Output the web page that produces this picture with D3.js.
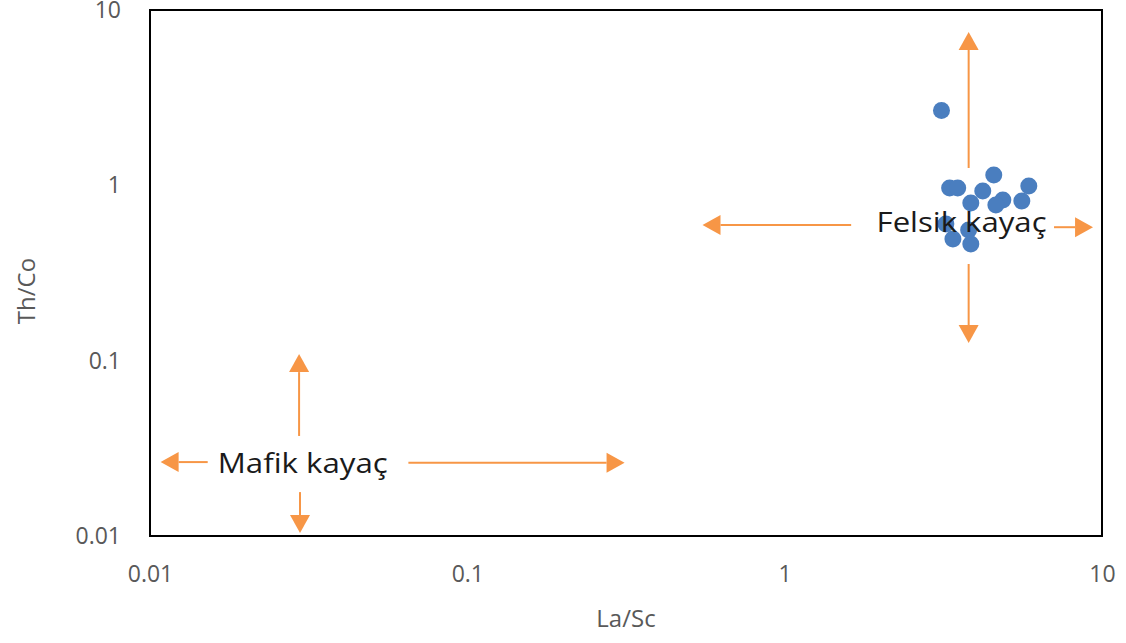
<!DOCTYPE html>
<html>
<head>
<meta charset="utf-8">
<script src="https://cdn.jsdelivr.net/npm/d3@7"></script>
<style>
  body { margin: 0; background: #fff; }
  svg { display: block; }
</style>
</head>
<body>
<svg id="chart" width="1126" height="643"></svg>
<script>
// La/Sc vs Th/Co samples
const laSc = [3.12, 3.31, 3.51, 4.56, 4.21, 3.86, 4.87, 4.63, 5.88, 5.59, 3.22, 3.39, 3.80, 3.86];
const thCo = [2.67, 0.966, 0.966, 1.146, 0.929, 0.792, 0.825, 0.773, 0.991, 0.814, 0.602, 0.494, 0.556, 0.463];
const tickValues = [0.01, 0.1, 1, 10];

// field arrows, in data units: [x1, y1, x2 (tip), y2 (tip)]
const felsicArrows = [
    [3.8, 1.256, 3.8, 7.49],
    [3.8, 0.356, 3.8, 0.126],
    [1.62, 0.594, 0.551, 0.594],
    [7.06, 0.577, 9.37, 0.577],
];
const maficArrows = [
    [0.0295, 0.0372, 0.0295, 0.109],
    [0.0297, 0.0178, 0.0297, 0.0104],
    [0.0152, 0.0264, 0.0108, 0.0264],
    [0.0652, 0.0262, 0.313, 0.0262],
];
// label anchor = text centre / baseline
const fieldLabels = [
    { text: "Felsik kayaç", x: 3.61, y: 0.542 },
    { text: "Mafik kayaç", x: 0.0303, y: 0.0229 },
];

let svg = d3.select("svg#chart");
const margin = { top: 10, left: 150, right: 24, bottom: 107 };
const width = svg.attr("width") - margin.left - margin.right;
const height = svg.attr("height") - margin.top - margin.bottom;
const orange = "#f79646";
const blue = "#4a7ebf";
const font = "Open Sans";

let xScale = d3.scaleLog().domain([0.01, 10]).range([0, width]);
let yScale = d3.scaleLog().domain([0.01, 10]).range([height, 0]);

let plot = svg.append("g")
    .attr("transform", `translate(${margin.left},${margin.top})`);

// axes (labels only, no tick marks)
let xAxis = d3.axisBottom(xScale).tickValues(tickValues).tickFormat(d3.format("~g")).tickSize(0).tickPadding(30);
let yAxis = d3.axisLeft(yScale).tickValues(tickValues).tickFormat(d3.format("~g")).tickSize(0).tickPadding(29);
plot.append("g")
    .attr("transform", `translate(0,${height})`)
    .call(xAxis)
    .call(g => g.select(".domain").remove())
    .selectAll("text")
    .style("font-family", font)
    .style("font-size", "23px")
    .style("fill", "#595959");
plot.append("g")
    .call(yAxis)
    .call(g => g.select(".domain").remove())
    .selectAll("text")
    .style("font-family", font)
    .style("font-size", "23px")
    .style("fill", "#595959");

// frame
plot.append("rect")
    .attr("x", 0)
    .attr("y", 0)
    .attr("width", width)
    .attr("height", height)
    .attr("fill", "none")
    .attr("stroke", "#000")
    .attr("stroke-width", 2);

// axis titles
svg.append("text")
    .attr("x", 626)
    .attr("y", 627)
    .attr("text-anchor", "middle")
    .style("font-family", font)
    .style("font-size", "24px")
    .style("fill", "#595959")
    .text("La/Sc");
svg.append("text")
    .attr("transform", "translate(35,291) rotate(-90)")
    .attr("text-anchor", "middle")
    .style("font-family", font)
    .style("font-size", "24px")
    .style("fill", "#595959")
    .text("Th/Co");

// arrows
function drawArrow(d) {
    const x1 = xScale(d[0]), y1 = yScale(d[1]);
    const x2 = xScale(d[2]), y2 = yScale(d[3]);
    const ang = Math.atan2(y2 - y1, x2 - x1);
    const len = 18, half = 10;
    const bx = x2 - len * Math.cos(ang), by = y2 - len * Math.sin(ang);
    plot.append("line")
        .attr("x1", x1).attr("y1", y1)
        .attr("x2", bx).attr("y2", by)
        .attr("stroke", orange)
        .attr("stroke-width", 2);
    const px = -Math.sin(ang) * half, py = Math.cos(ang) * half;
    plot.append("path")
        .attr("d", `M${x2},${y2}L${bx + px},${by + py}L${bx - px},${by - py}Z`)
        .attr("fill", orange);
}
felsicArrows.forEach(drawArrow);
maficArrows.forEach(drawArrow);

// sample points
plot.selectAll("circle.sample")
    .data(laSc.map((v, i) => ({ x: v, y: thCo[i] })))
    .join("circle")
    .attr("class", "sample")
    .attr("cx", d => xScale(d.x))
    .attr("cy", d => yScale(d.y))
    .attr("r", 8.5)
    .attr("fill", blue);

// field labels
plot.selectAll("text.field")
    .data(fieldLabels)
    .join("text")
    .attr("class", "field")
    .attr("x", d => xScale(d.x))
    .attr("y", d => yScale(d.y))
    .attr("text-anchor", "middle")
    .attr("textLength", 170)
    .attr("lengthAdjust", "spacingAndGlyphs")
    .style("font-family", font)
    .style("font-size", "28px")
    .style("fill", "#1a1a1a")
    .text(d => d.text);
</script>
</body>
</html>
